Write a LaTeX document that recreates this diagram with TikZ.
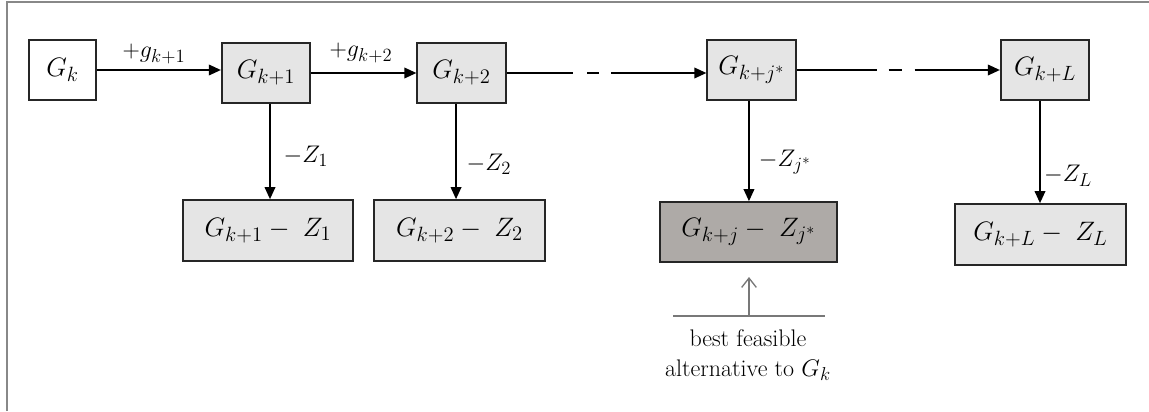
\RequirePackage{fix-cm}
\documentclass[tikz,border=0pt]{standalone}
\usetikzlibrary{arrows.meta}
\DeclareMathSizes{20}{20}{15.5}{12}
\DeclareMathSizes{18}{18}{14}{11}
\definecolor{boxgray}{RGB}{229,229,229}
\definecolor{darkbox}{RGB}{174,170,167}
\definecolor{framegray}{RGB}{136,136,136}
\definecolor{anngray}{RGB}{120,120,120}
\begin{document}
\begin{tikzpicture}[x=0.75pt,y=-0.75pt,
  box/.style={draw=black!85, line width=1.3pt, minimum height=45pt, inner sep=0pt,
    font=\fontsize{20}{24}\selectfont},
  topbox/.style={box, fill=boxgray, minimum width=66.4pt},
  botbox/.style={box, fill=boxgray, minimum width=128pt, minimum height=45.75pt},
  arr/.style={line width=1.1pt, -{Triangle[length=9pt,width=8pt]}},
  lbl/.style={font=\fontsize{18}{21}\selectfont, inner sep=0pt},
  annline/.style={draw=anngray, line width=1pt}
]
\useasboundingbox (0,0) rectangle (1149,411);
\draw[framegray, line width=1.5pt] (6.5,411) -- (6.5,2) -- (1149,2);

% top row
\node[box, fill=white, minimum width=50.25pt] (gk) at (62.5,70) {$G_k$};
\node[topbox] (gk1) at (266,73) {$G_{k+1}$};
\node[topbox] (gk2) at (461.5,73) {$G_{k+2}$};
\node[topbox] (gkj) at (751.5,70) {$G_{k+j^*}$};
\node[topbox] (gkL) at (1045,70) {$G_{k+L}$};

% bottom row
\node[botbox] (b1) at (268,230.5) {$G_{k+1}-\;Z_1$};
\node[botbox] (b2) at (459.5,230.5) {$G_{k+2}-\;Z_2$};
\node[botbox, fill=darkbox, minimum width=132.75pt, minimum height=45pt] (bj) at (748.5,232) {$G_{k+j}-\;Z_{j^*}$};
\node[botbox] (bL) at (1040.5,234.5) {$G_{k+L}-\;Z_L$};

% horizontal connectors
\draw[arr] (gk.east) -- (gk.east -| gk1.west);
\draw[arr] (gk1.east) -- (gk1.east -| gk2.west);
\draw[arr, dash pattern=on 50pt off 10.5pt on 9pt off 9pt on 400pt] (gk2.east) -- (gk2.east -| gkj.west);
\draw[arr, dash pattern=on 60pt off 9pt on 9.75pt off 9.75pt on 400pt] (gkj.east) -- (gkj.east -| gkL.west);

\node[lbl] (lg1) at (154,54) {$+g_{k+1}$};
\node[lbl] (lg2) at (361,53) {$+g_{k+2}$};

% vertical connectors
\draw[arr] ([xshift=3pt]gk1.south) -- ([xshift=3pt]gk1.south |- b1.north);
\draw[arr] ([xshift=-4.1pt]gk2.south) -- ([xshift=-4.1pt]gk2.south |- b2.north);
\draw[arr] ([xshift=-1.9pt]gkj.south) -- ([xshift=-1.9pt]gkj.south |- bj.north);
\draw[arr] ([xshift=-3.75pt]gkL.south) -- ([xshift=-3.75pt]gkL.south |- bL.north);

\node[lbl] (lz1) at (306,156) {$-Z_1$};
\node[lbl] (lz2) at (489,164) {$-Z_2$};
\node[lbl] (lzj) at (785,162) {$-Z_{j^*}$};
\node[lbl] (lzL) at (1068,176) {$-Z_L$};

% annotation
\coordinate (annbase) at (749,316);
\coordinate (anntip) at (749,277);
\coordinate (annl) at (673,316);
\coordinate (annr) at (825,316);
\draw[annline] (annl) -- (annr);
\draw[annline, -{Straight Barb[length=7pt,width=11pt]}] (annbase) -- (anntip);
\node[align=center, inner sep=0pt, font=\fontsize{18}{22.5}\selectfont] (ann) at (748,355)
  {best feasible\\alternative to $G_k$};
\end{tikzpicture}
\end{document}
